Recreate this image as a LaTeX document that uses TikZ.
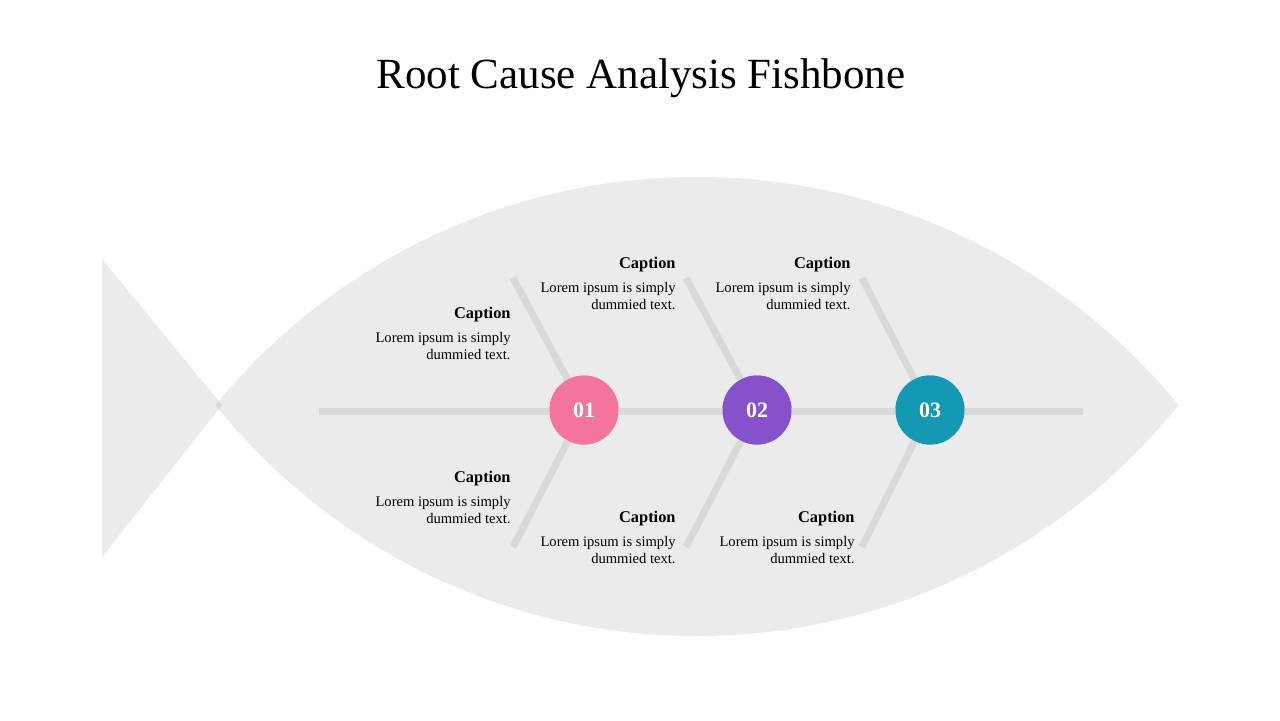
\documentclass[tikz,border=0pt]{standalone}
\usepackage{fontspec}
\setmainfont{Liberation Serif}
\definecolor{fishgray}{HTML}{EBEBEB}
\definecolor{bonegray}{HTML}{D9D9D9}
\definecolor{pinkone}{HTML}{F3759B}
\definecolor{purpletwo}{HTML}{8652CC}
\definecolor{tealthree}{HTML}{1399B4}
\newcommand{\capnote}{\textbf{\fontsize{8.2}{8.7}\selectfont Caption}\\[3pt]Lorem ipsum is simply\\dummied text.}

\begin{document}
\begin{tikzpicture}[x=0.5pt,y=-0.5pt,
  bone/.style={draw=bonegray,line width=3.5pt},
  num/.style={circle,inner sep=0pt,minimum size=34.5pt,text=white,font=\bfseries\fontsize{11}{11}\selectfont},
  note/.style={align=right,inner sep=0pt,anchor=north east,font=\fontsize{7.3}{8.7}\selectfont}]
  \useasboundingbox (0,0) rectangle (1280,720);
  \node[font=\fontsize{21.5}{24}\selectfont,anchor=base] (title) at (641,88) {Root Cause Analysis Fishbone};
  % fish body and tail
  \begin{scope}
    \clip (697,799.4) circle[radius=622.4];
    \fill[fishgray] (697,18.7) circle[radius=617.3];
  \end{scope}
  \fill[black,fill opacity=0.08] (102,259) -- (222,405) -- (102,557) -- cycle;
  % spine and bones
  \coordinate (head) at (1083,411);
  \coordinate (tail) at (319,411);
  \node[num,fill=pinkone] (n1) at (584,410) {};
  \node[num,fill=purpletwo] (n2) at (757,410) {};
  \node[num,fill=tealthree] (n3) at (930,410) {};
  \draw[bone] (tail) -- (head);
  \coordinate (u1) at (513,278); \coordinate (d1) at (513,547);
  \coordinate (u2) at (686,278); \coordinate (d2) at (686,547);
  \coordinate (u3) at (862,278); \coordinate (d3) at (862,547);
  \draw[bone] (u1) -- (n1.center) -- (d1);
  \draw[bone] (u2) -- (n2.center) -- (d2);
  \draw[bone] (u3) -- (n3.center) -- (d3);
  \node[num,fill=pinkone] at (n1) {01};
  \node[num,fill=purpletwo] at (n2) {02};
  \node[num,fill=tealthree] at (n3) {03};
  % captions
  \node[note] (c1) at (511,307) {\capnote};
  \node[note] (c2) at (676,257) {\capnote};
  \node[note] (c3) at (851,257) {\capnote};
  \node[note] (c4) at (511,471) {\capnote};
  \node[note] (c5) at (676,511) {\capnote};
  \node[note] (c6) at (855,511) {\capnote};
\end{tikzpicture}
\end{document}
